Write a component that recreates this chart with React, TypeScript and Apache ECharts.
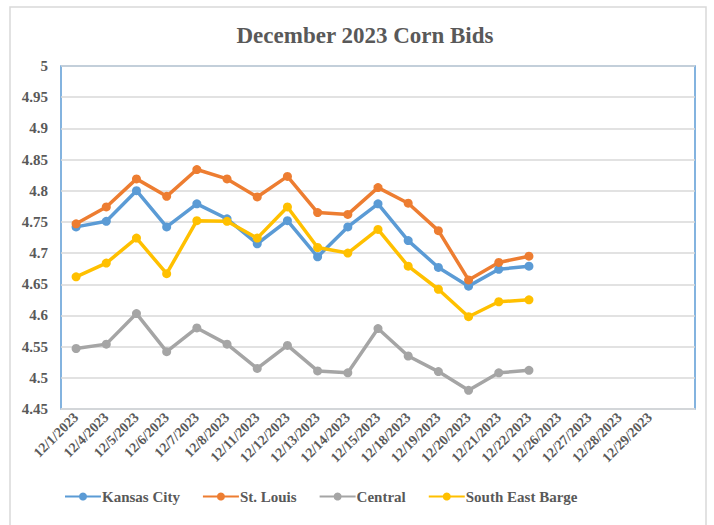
import React, { useEffect, useRef } from "react";
import * as echarts from "echarts";

const categories = [
  "12/1/2023", "12/4/2023", "12/5/2023", "12/6/2023", "12/7/2023", "12/8/2023",
  "12/11/2023", "12/12/2023", "12/13/2023", "12/14/2023", "12/15/2023", "12/18/2023",
  "12/19/2023", "12/20/2023", "12/21/2023", "12/22/2023", "12/26/2023", "12/27/2023",
  "12/28/2023", "12/29/2023", "",
];

const kansasCity = [4.742, 4.751, 4.8, 4.742, 4.779, 4.755, 4.715, 4.752, 4.694, 4.742, 4.779, 4.72, 4.677, 4.647, 4.674, 4.679];
const stLouis = [4.747, 4.774, 4.819, 4.791, 4.834, 4.819, 4.79, 4.823, 4.765, 4.762, 4.805, 4.78, 4.736, 4.657, 4.685, 4.695];
const central = [4.547, 4.554, 4.603, 4.542, 4.58, 4.554, 4.515, 4.552, 4.511, 4.508, 4.579, 4.535, 4.51, 4.48, 4.508, 4.512];
const southEastBarge = [4.662, 4.684, 4.724, 4.667, 4.752, 4.751, 4.724, 4.774, 4.709, 4.7, 4.738, 4.679, 4.642, 4.598, 4.622, 4.625];

const seriesNames = ["Kansas City", "St. Louis", "Central", "South East Barge"];
const seriesColors = ["#5B9BD5", "#ED7D31", "#A5A5A5", "#FFC000"];
const seriesData = [kansasCity, stLouis, central, southEastBarge];

const FONT = "Liberation Serif";

export default function App() {
  const ref = useRef<HTMLDivElement>(null);
  useEffect(() => {
    if (!ref.current) return;
    const chart = echarts.init(ref.current, null, { renderer: "svg" });
    chart.setOption({
      animation: false,
      backgroundColor: "#ffffff",
      title: {
        text: "December 2023 Corn Bids",
        left: 360,
        textAlign: "center",
        top: 19,
        textStyle: { fontFamily: FONT, fontWeight: "bold", fontSize: 23, color: "#595959" },
      },
      graphic: [
        {
          type: "rect",
          shape: { x: 10, y: 7, width: 696, height: 530 },
          style: { fill: "none", stroke: "#D9D9D9", lineWidth: 1.5 },
          silent: true,
        },
      ],
      legend: {
        bottom: 16,
        left: 59,
        itemWidth: 36,
        itemHeight: 10,
        itemGap: 22,
        textStyle: { fontFamily: FONT, fontWeight: "bold", fontSize: 15, color: "#595959", padding: [0, 0, 0, -4] },
        data: seriesNames,
      },
      grid: {
        left: 61,
        right: 19,
        top: 66,
        bottom: 116,
        show: true,
        borderColor: "#5B9BD5",
        borderWidth: 1.5,
        containLabel: false,
      },
      xAxis: {
        type: "category",
        data: categories,
        boundaryGap: true,
        axisLine: { lineStyle: { color: "#D9D9D9", width: 1.5 } },
        axisTick: { show: false },
        axisLabel: {
          rotate: 45,
          interval: 0,
          margin: 6,
          fontFamily: FONT,
          fontWeight: "bold",
          fontSize: 14,
          color: "#595959",
        },
      },
      yAxis: {
        type: "value",
        min: 4.45,
        max: 5,
        interval: 0.05,
        axisLine: { show: false },
        axisTick: { show: false },
        splitLine: { lineStyle: { color: "#D9D9D9", width: 1.5 } },
        axisLabel: {
          margin: 13,
          fontFamily: FONT,
          fontWeight: "bold",
          fontSize: 15,
          color: "#595959",
          formatter: (v: number) => String(parseFloat(v.toFixed(2))),
        },
      },
      series: seriesNames.map((name, i) => ({
        name,
        type: "line",
        data: seriesData[i],
        symbol: "circle",
        symbolSize: 9,
        lineStyle: { width: 3.5, color: seriesColors[i] },
        itemStyle: { color: seriesColors[i] },
      })),
    });
    return () => chart.dispose();
  }, []);
  return (
    <div
      ref={ref}
      style={{ position: "absolute", left: 0, top: 0, width: 714, height: 525 }}
    />
  );
}
